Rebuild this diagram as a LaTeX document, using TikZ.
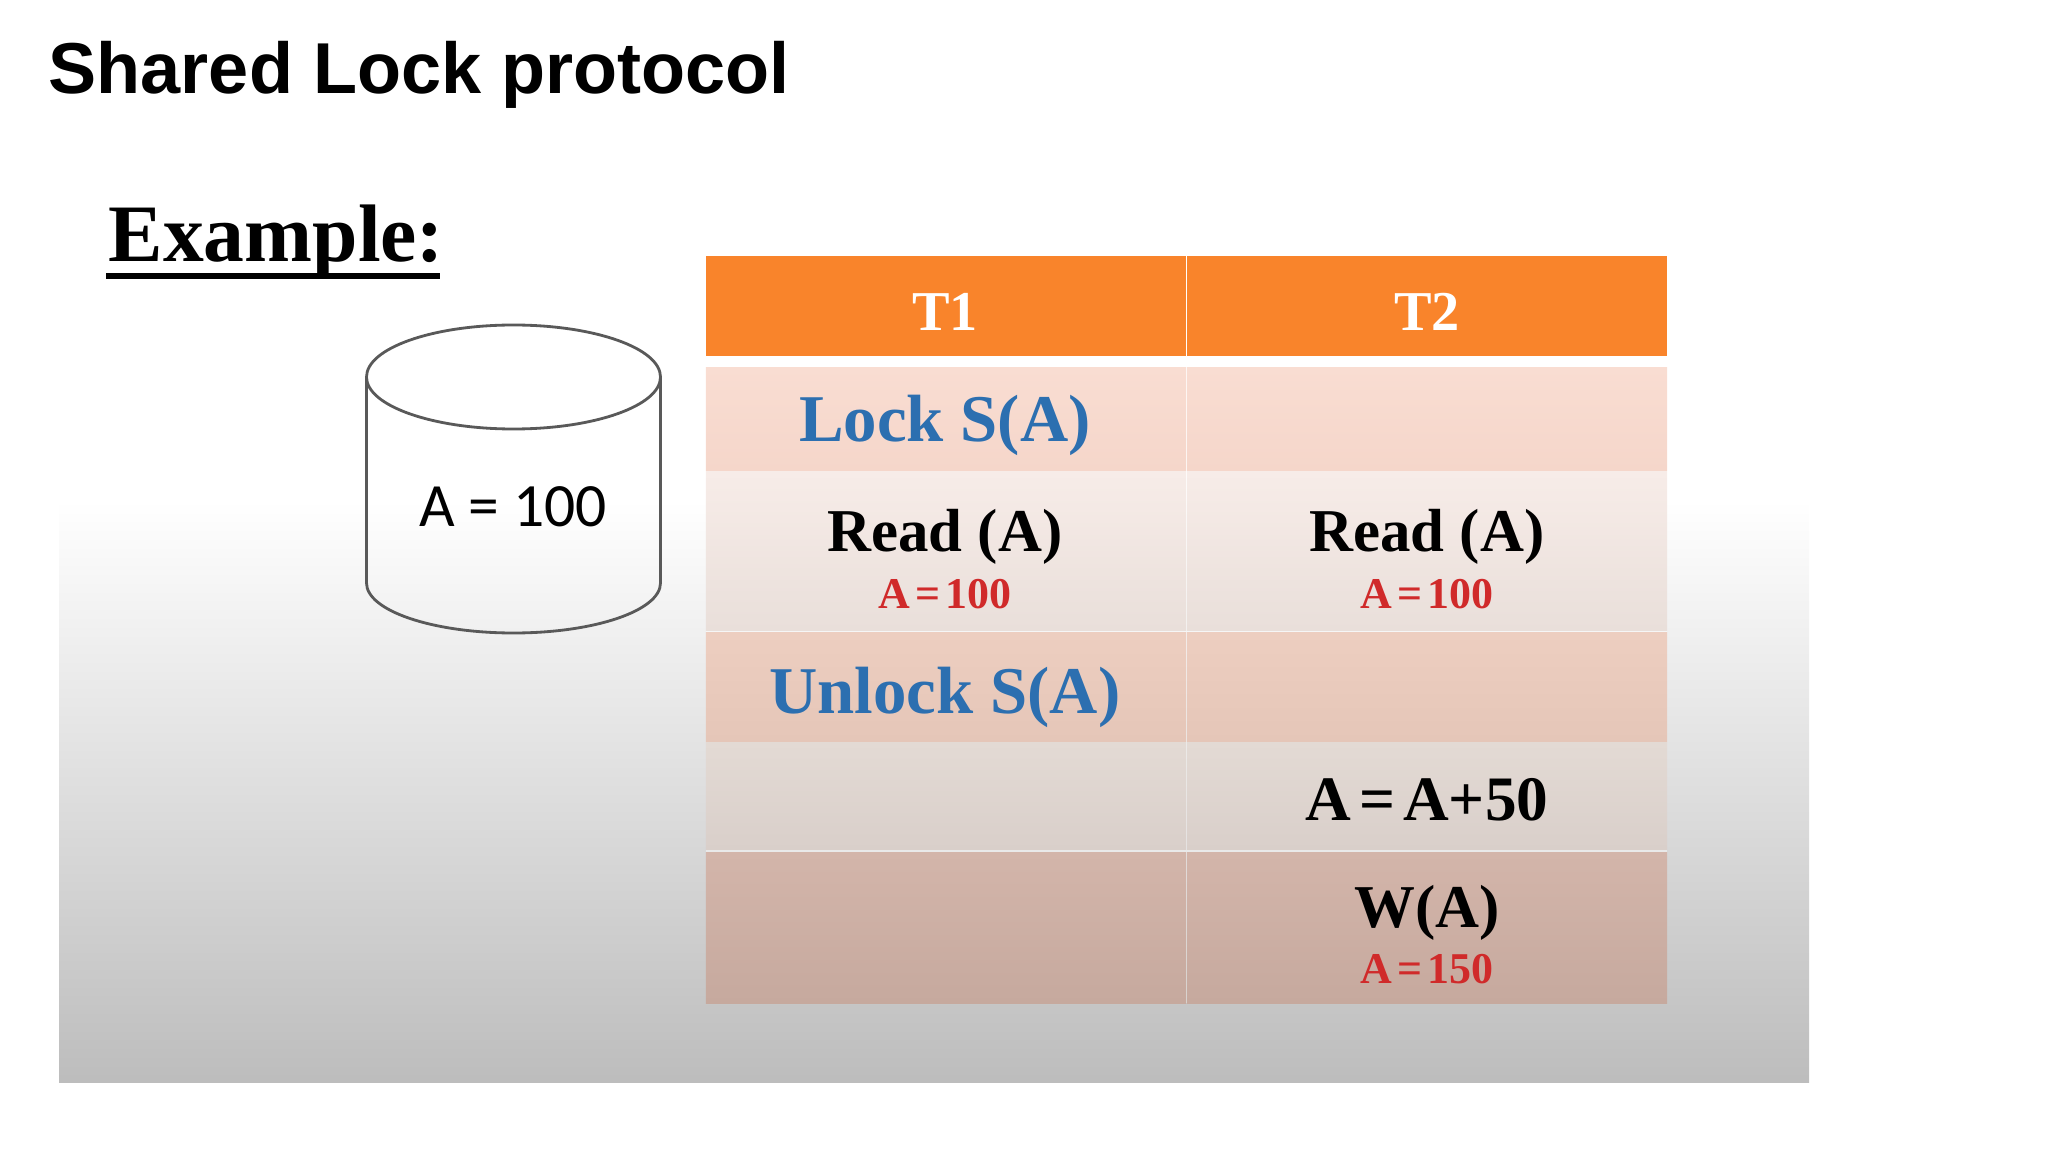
\documentclass[tikz,border=0pt]{standalone}
\usepackage{fontspec}
\setmainfont{Liberation Serif}
\newfontfamily\titlefont{Liberation Sans}
\newfontfamily\cylfont{Carlito}
\newfontfamily\tightfont[WordSpace=0.5]{Liberation Serif}
\definecolor{hdrorange}{HTML}{F9842B}
\definecolor{opblue}{HTML}{2C6FB0}
\definecolor{valred}{HTML}{D02A2A}
\definecolor{oneTop}{HTML}{F9DDD2}
\definecolor{oneBot}{HTML}{F5D6CA}
\definecolor{twoTop}{HTML}{F7ECE8}
\definecolor{twoBot}{HTML}{E9DFDA}
\definecolor{threeTop}{HTML}{EDCEC0}
\definecolor{threeBot}{HTML}{E5C6B8}
\definecolor{fourTop}{HTML}{E3DAD4}
\definecolor{fourBot}{HTML}{D9CFCA}
\definecolor{fiveTop}{HTML}{D3B5AA}
\definecolor{fiveBot}{HTML}{C6A99E}
\tikzset{
  cell/.style={rectangle,inner sep=0pt,minimum width=4.80cm},
  hdrcell/.style={cell,minimum height=0.99cm,fill=hdrorange},
  rowone/.style={cell,minimum height=1.03cm,top color=oneTop,bottom color=oneBot},
  rowtwo/.style={cell,minimum height=1.58cm,top color=twoTop,bottom color=twoBot},
  rowthree/.style={cell,minimum height=1.08cm,top color=threeTop,bottom color=threeBot},
  rowfour/.style={cell,minimum height=1.07cm,top color=fourTop,bottom color=fourBot},
  rowfive/.style={cell,minimum height=1.51cm,top color=fiveTop,bottom color=fiveBot},
  hdrtext/.style={anchor=base,text=white,font=\bfseries\fontsize{16}{18}\selectfont},
  optext/.style={anchor=base,font=\bfseries\fontsize{17.3}{20}\selectfont},
  locktext/.style={anchor=base,text=opblue,font=\bfseries\fontsize{19}{21}\selectfont},
  valtext/.style={anchor=base,text=valred,font=\tightfont\bfseries\fontsize{12.5}{14}\selectfont},
}
\begin{document}
\begin{tikzpicture}[x=0.01cm,y=-0.01cm]
\useasboundingbox (0,0) rectangle (2048,1152);
\shade [top color=white,bottom color=black!26] (59,500) rectangle (1809,1082);

\node [anchor=base west,inner sep=0pt,font=\titlefont\bfseries\fontsize{20.5}{24}\selectfont] (title) at (48,94) {Shared Lock protocol};
\node [anchor=base west,inner sep=0pt,font=\bfseries\fontsize{23.2}{26}\selectfont] (example) at (108,262) {Example:};
\draw [line width=1.7pt] (106,276) -- (440,276);

\draw [line width=0.8pt,black!65] (513.5,377) ellipse [x radius=147,y radius=52];
\draw [line width=0.8pt,black!65] (366.5,377) -- (366.5,583) arc (180:0:147 and 50) -- (660.5,377);
\node [anchor=base,font=\cylfont\fontsize{17.5}{22}\selectfont] (dbval) at (513,527) {A = 100};

\fill [white,opacity=0.45] (706,257) rectangle (1667,1003);
\node [hdrcell] (hdrA) at (946,306) {};
\node [hdrcell] (hdrB) at (1427,306) {};
\node [rowone] (oneA) at (946,419) {};
\node [rowone] (oneB) at (1427,419) {};
\node [rowtwo] (twoA) at (946,551) {};
\node [rowtwo] (twoB) at (1427,551) {};
\node [rowthree] (threeA) at (946,687) {};
\node [rowthree] (threeB) at (1427,687) {};
\node [rowfour] (fourA) at (946,796) {};
\node [rowfour] (fourB) at (1427,796) {};
\node [rowfive] (fiveA) at (946,928) {};
\node [rowfive] (fiveB) at (1427,928) {};

\node [hdrtext] (tone) at (945,331) {T1};
\node [hdrtext] (ttwo) at (1427,331) {T2};
\node [locktext] (lock) at (945,442) {Lock S(A)};
\node [optext] (readA) at (945,552) {Read (A)};
\node [optext] (readB) at (1427,552) {Read (A)};
\node [valtext] (valA) at (945,608) {A = 100};
\node [valtext] (valB) at (1427,608) {A = 100};
\node [locktext] (unlock) at (945,713) {Unlock S(A)};
\node [optext,font=\tightfont\bfseries\fontsize{18}{20}\selectfont] (add) at (1427,820) {A = A+50};
\node [optext] (write) at (1427,927) {W(A)};
\node [valtext] (valC) at (1427,983) {A = 150};
\end{tikzpicture}
\end{document}
